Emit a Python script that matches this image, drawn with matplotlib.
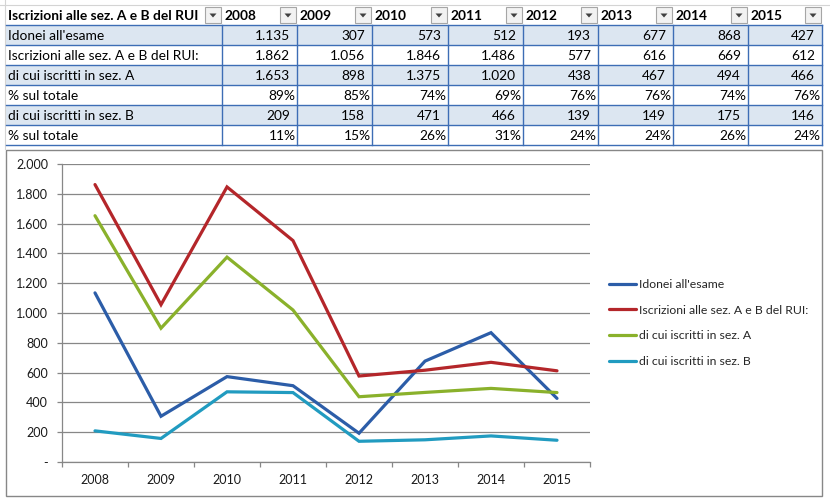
import matplotlib
matplotlib.use('Agg')
import matplotlib.pyplot as plt
from matplotlib.patches import Rectangle, Polygon
from matplotlib.ticker import MultipleLocator, FuncFormatter, FixedLocator

# ---------------- data ----------------
years = ['2008', '2009', '2010', '2011', '2012', '2013', '2014', '2015']
idonei = [1135, 307, 573, 512, 193, 677, 868, 427]
iscrizioni = [1862, 1056, 1846, 1486, 577, 616, 669, 612]
sez_a = [1653, 898, 1375, 1020, 438, 467, 494, 466]
pct_a = [89, 85, 74, 69, 76, 76, 74, 76]
sez_b = [209, 158, 471, 466, 139, 149, 175, 146]
pct_b = [11, 15, 26, 31, 24, 24, 26, 24]
header_label = "Iscrizioni alle sez. A e B del RUI"
row_labels = ["Idonei all'esame", "Iscrizioni alle sez. A e B del RUI:",
              "di cui iscritti in sez. A", "% sul totale",
              "di cui iscritti in sez. B", "% sul totale"]
series_labels = ["Idonei all'esame", "Iscrizioni alle sez. A e B del RUI:",
                 "di cui iscritti in sez. A", "di cui iscritti in sez. B"]

FONT = 'Lato'
TFS = 9.9
W, H = 830, 499
fig = plt.figure(figsize=(W / 100, H / 100), dpi=100)
fig.patch.set_facecolor('white')

bg = fig.add_axes([0, 0, 1, 1])
bg.set_xlim(0, W)
bg.set_ylim(H, 0)
bg.axis('off')


def fmt_num(v):
    return f"{v:,}".replace(',', '.')


# ---------------- table ----------------
col_edges = [6, 222, 297, 372, 448, 523, 598, 673, 748, 822]
row_edges = [5, 25, 45, 65, 85, 105, 125, 145]
band = '#DCE6F1'
blue_line = '#3D6DB5'

# faint excel gridlines
bg.plot([0, W], [5, 5], color='#D4D4D4', lw=0.8)
bg.plot([5, 5], [0, 149], color='#D4D4D4', lw=0.8)

for r in range(6):
    y0 = row_edges[r + 1]
    if r % 2 == 0:
        bg.add_patch(Rectangle((col_edges[0], y0), col_edges[-1] - col_edges[0], 20,
                               facecolor=band, edgecolor='none', zorder=1))
for y in row_edges[1:]:
    bg.plot([col_edges[0], col_edges[-1]], [y, y], color=blue_line, lw=1.0, zorder=3)
for x in col_edges[1:]:
    bg.plot([x, x], [row_edges[1], row_edges[-1]], color=blue_line, lw=1.0, zorder=3)

# header
bg.text(col_edges[0] + 2, 15.5, header_label, fontsize=TFS, fontweight='bold',
        family=FONT, ha='left', va='center', zorder=4)
for i, yr in enumerate(years):
    bg.text(col_edges[i + 1] + 3, 15.5, yr, fontsize=TFS, fontweight='bold',
            family=FONT, ha='left', va='center', zorder=4)
for x in col_edges[1:]:
    bx0, bx1 = x - 17, x - 1
    bg.add_patch(Rectangle((bx0, 7), bx1 - bx0, 16, facecolor='#F2F2F2',
                           edgecolor='#A6A6A6', lw=0.8, zorder=4))
    cx = (bx0 + bx1) / 2
    bg.add_patch(Polygon([[cx - 3.5, 13.5], [cx + 3.5, 13.5], [cx, 17.5]],
                         closed=True, facecolor='#404040', edgecolor='none', zorder=5))

table_rows = [idonei, iscrizioni, sez_a, pct_a, sez_b, pct_b]
is_pct = [False, False, False, True, False, True]
for r, (lab, vals) in enumerate(zip(row_labels, table_rows)):
    yc = row_edges[r + 1] + 10.5
    bg.text(col_edges[0] + 2, yc, lab, fontsize=TFS, family=FONT,
            ha='left', va='center', zorder=4)
    for i, v in enumerate(vals):
        if is_pct[r]:
            s, xr = f"{v}%", col_edges[i + 2] - 1.5
        else:
            s, xr = fmt_num(v), col_edges[i + 2] - 7
        bg.text(xr, yc, s, fontsize=TFS, family=FONT, ha='right', va='center', zorder=4)

# ---------------- chart area ----------------
bg.add_patch(Rectangle((6, 150), 816, 346, facecolor='white', edgecolor='#878787',
                       lw=1.0, zorder=1))

px_l, px_r, px_t, px_b = 62, 590, 164, 462
ax = fig.add_axes([px_l / W, 1 - px_b / H, (px_r - px_l) / W, (px_b - px_t) / H])
ax.set_facecolor('none')

colors = ['#2C5DA8', '#B4262A', '#8AB12B', '#219BC0']
series = [idonei, iscrizioni, sez_a, sez_b]
xs = list(range(len(years)))
for vals, c, lab in zip(series, colors, series_labels):
    ax.plot(xs, vals, color=c, lw=2.3, label=lab, solid_capstyle='round',
            solid_joinstyle='miter', zorder=3)

ax.set_xlim(-0.5, len(years) - 0.5)
ax.set_ylim(0, 2000)
ax.yaxis.set_major_locator(MultipleLocator(200))
ax.yaxis.set_major_formatter(FuncFormatter(lambda v, p: '-' if v == 0 else fmt_num(int(v))))
ax.xaxis.set_major_locator(FixedLocator([i - 0.5 for i in range(len(years) + 1)]))
ax.xaxis.set_major_formatter(FuncFormatter(lambda v, p: ''))
ax.xaxis.set_minor_locator(FixedLocator(xs))
ax.set_xticks(xs, years, minor=True)

grid_c = '#878787'
ax.grid(axis='y', color=grid_c, lw=0.9, zorder=0)
for s in ['top', 'right']:
    ax.spines[s].set_visible(False)
for s in ['left', 'bottom']:
    ax.spines[s].set_color(grid_c)
    ax.spines[s].set_linewidth(0.9)
ax.tick_params(axis='y', which='major', length=3.6, color=grid_c, width=0.9, pad=6.5,
               labelsize=9, labelcolor='#1a1a1a')
ax.tick_params(axis='x', which='major', length=3.6, color=grid_c, width=0.9)
ax.tick_params(axis='x', which='minor', length=0, pad=9, labelsize=9, labelcolor='#1a1a1a')
for t in ax.get_yticklabels() + ax.get_xticklabels(minor=True):
    t.set_family(FONT)

leg = ax.legend(loc='upper left', bbox_to_anchor=(609 / W, 1 - 279 / H),
                bbox_transform=fig.transFigure, frameon=False,
                prop={'family': FONT, 'size': 8.8}, handlelength=2.2,
                handletextpad=0.25, labelspacing=1.2, borderpad=0, borderaxespad=0)
for t in leg.get_texts():
    t.set_color('#262626')

fig.savefig('out.png', dpi=100, facecolor='white')
